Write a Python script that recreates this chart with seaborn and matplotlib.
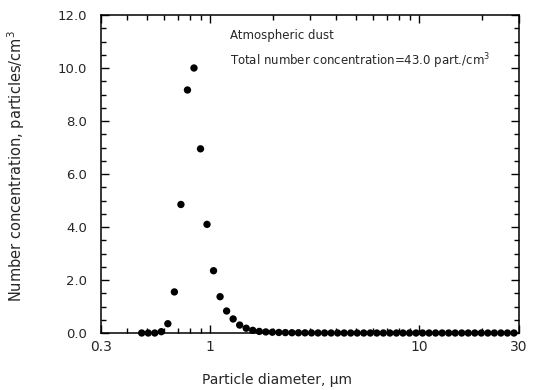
import matplotlib
matplotlib.use("Agg")
import matplotlib.pyplot as plt
import seaborn as sns
import pandas as pd
from matplotlib.ticker import FixedLocator, NullFormatter, FixedFormatter

# Particle diameters (um)
diameter = [0.4697, 0.5048, 0.5425, 0.5830, 0.6266, 0.6734, 0.7237, 0.7777,
            0.8356, 0.8978, 0.9647, 1.0366, 1.1140, 1.1971, 1.2864, 1.3824,
            1.4855, 1.5963, 1.7154, 1.8434, 1.9809, 2.1287, 2.2875, 2.4582,
            2.6416, 2.8386, 3.0504, 3.2779, 3.5225, 3.7852, 4.0676, 4.3711,
            4.6971, 5.0475, 5.4241, 5.8287, 6.2635, 6.7308, 7.2329, 7.7725,
            8.3523, 8.9754, 9.6450, 10.364, 11.138, 11.969, 12.861, 13.821,
            14.852, 15.960, 17.150, 18.430, 19.804, 21.282, 22.869, 24.575,
            26.409, 28.379]
# Number concentration (particles/cm^3)
concentration = [0.0, 0.0, 0.0, 0.05, 0.35, 1.55, 4.85, 9.17,
                 10.0, 6.95, 4.1, 2.35, 1.37, 0.83, 0.53, 0.30,
                 0.18, 0.10, 0.06, 0.04, 0.03, 0.02, 0.015, 0.01,
                 0.008, 0.006, 0.004, 0.003, 0.002, 0.001, 0.001, 0.0,
                 0.0, 0.0, 0.0, 0.0, 0.0, 0.0, 0.0, 0.0,
                 0.0, 0.0, 0.0, 0.0, 0.0, 0.0, 0.0, 0.0,
                 0.0, 0.0, 0.0, 0.0, 0.0, 0.0, 0.0, 0.0,
                 0.0, 0.0]

x_major = [0.3, 1, 10, 30]
x_major_labels = ["0.3", "1", "10", "30"]
x_minor = [0.4, 0.5, 0.6, 0.7, 0.8, 0.9, 2, 3, 4, 5, 6, 7, 8, 9, 20]
y_major = [0, 2, 4, 6, 8, 10, 12]
y_major_labels = ["0.0", "2.0", "4.0", "6.0", "8.0", "10.0", "12.0"]
y_minor = [0.5, 1, 1.5, 2.5, 3, 3.5, 4.5, 5, 5.5, 6.5, 7, 7.5,
           8.5, 9, 9.5, 10.5, 11, 11.5]

title_line1 = "Atmospheric dust"
title_line2 = "Total number concentration=43.0 part./cm$^3$"
xlabel = "Particle diameter, \u03bcm"
ylabel = "Number concentration, particles/cm$^3$"

sns.set_style("ticks")
plt.rcParams["font.family"] = ["DejaVu Sans"]

df = pd.DataFrame({"d": diameter, "n": concentration})

fig = plt.figure(figsize=(5.37, 3.90), dpi=100)
ax = fig.add_axes([101/537, 57/390, 418/537, 318/390])

sns.scatterplot(data=df, x="d", y="n", ax=ax, color="black", s=28,
                edgecolor="none", clip_on=False, zorder=3, legend=False)

ax.set_xscale("log")
ax.set_xlim(0.3, 30)
ax.set_ylim(0, 12)

ax.xaxis.set_major_locator(FixedLocator(x_major))
ax.xaxis.set_major_formatter(FixedFormatter(x_major_labels))
ax.xaxis.set_minor_locator(FixedLocator(x_minor))
ax.xaxis.set_minor_formatter(NullFormatter())
ax.yaxis.set_major_locator(FixedLocator(y_major))
ax.yaxis.set_major_formatter(FixedFormatter(y_major_labels))
ax.yaxis.set_minor_locator(FixedLocator(y_minor))

for s in ax.spines.values():
    s.set_visible(True)
    s.set_linewidth(1.1)
    s.set_color("black")

ax.tick_params(which="both", direction="in", top=True, right=True,
               color="black", width=1.0)
ax.tick_params(which="major", length=6)
ax.tick_params(which="minor", length=3.5)
ax.tick_params(axis="y", which="major", labelsize=9.5, pad=10)
ax.tick_params(axis="x", which="major", labelsize=10, pad=5)

ax.set_xlabel(xlabel, fontsize=10)
ax.set_ylabel(ylabel, fontsize=10.5)
ax.xaxis.set_label_coords(0.42, -0.125)
ax.yaxis.set_label_coords(-0.178, 0.525)

ax.text((230-101)/418, (333-36)/318, title_line1, fontsize=8.5,
        transform=ax.transAxes, va="center")
ax.text((230-101)/418, (333-61)/318, title_line2, fontsize=8.5,
        transform=ax.transAxes, va="center")

fig.savefig("out.png", dpi=100)
